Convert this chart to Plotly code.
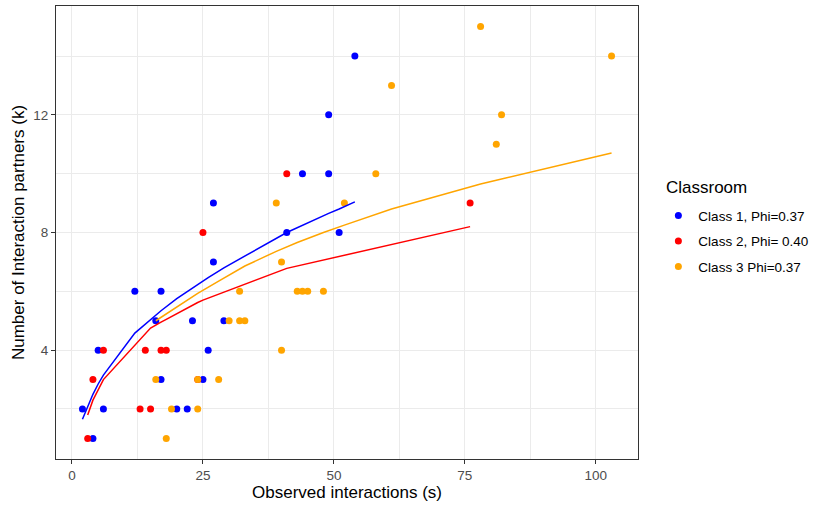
import plotly.graph_objects as go

# Observed data (s = observed interactions, k = interaction partners)
c1_s = [2, 4, 5, 6, 12, 16, 17, 17, 20, 22, 23, 25, 26, 27, 27, 29, 41, 44, 49, 49, 51, 54]
c1_k = [2, 1, 4, 2, 6, 5, 6, 3, 2, 2, 5, 3, 4, 7, 9, 5, 8, 10, 12, 10, 8, 14]

c2_s = [3, 4, 6, 13, 14, 15, 17, 18, 24, 25, 41, 76]
c2_k = [1, 3, 4, 2, 4, 2, 4, 4, 3, 8, 10, 9]

c3_s = [16, 18, 19, 24, 24, 28, 30, 32, 33, 32, 40, 40, 43, 44, 45, 48, 39, 52, 58, 61, 78, 82, 81, 103]
c3_k = [3, 1, 2, 2, 3, 3, 5, 5, 5, 6, 7, 4, 6, 6, 6, 6, 9, 9, 10, 13, 15, 12, 11, 14]

# Fitted curves
f1_s = [2, 4, 5, 6, 12, 16, 17, 20, 22, 23, 25, 26, 27, 29, 41, 44, 49, 51, 54]
f1_k = [1.65, 2.5, 2.85, 3.15, 4.58, 5.2, 5.34, 5.75, 6.0, 6.12, 6.35, 6.47, 6.58, 6.8, 8.0, 8.25, 8.65, 8.8, 9.04]

f2_s = [3, 4, 6, 13, 14, 15, 17, 18, 24, 25, 41, 76]
f2_k = [1.8, 2.3, 3.0, 4.35, 4.55, 4.75, 4.95, 5.05, 5.62, 5.7, 6.78, 8.2]

f3_s = [16, 18, 19, 24, 28, 30, 32, 33, 39, 40, 43, 44, 45, 48, 52, 58, 61, 78, 81, 82, 103]
f3_k = [5.0, 5.24, 5.35, 5.93, 6.35, 6.56, 6.76, 6.86, 7.36, 7.44, 7.66, 7.73, 7.8, 8.0, 8.25, 8.62, 8.8, 9.65, 9.78, 9.82, 10.7]

names = ["Class 1, Phi=0.37", "Class 2, Phi= 0.40", "Class 3 Phi=0.37"]
colors = ["#0000FF", "#FF0000", "#FFA500"]
legend_title = "Classroom"

fig = go.Figure()
for i, (s, k, n, c) in enumerate([(c1_s, c1_k, names[0], colors[0]),
                                  (c2_s, c2_k, names[1], colors[1]),
                                  (c3_s, c3_k, names[2], colors[2])]):
    fig.add_trace(go.Scatter(x=s, y=k, mode="markers", name=n, legendgroup=f"g{i}",
                             marker=dict(color=c, size=7, line=dict(width=0))))
for i, (s, k, c) in enumerate([(f1_s, f1_k, colors[0]), (f2_s, f2_k, colors[1]), (f3_s, f3_k, colors[2])]):
    fig.add_trace(go.Scatter(x=s, y=k, mode="lines", showlegend=False, legendgroup=f"g{i}",
                             line=dict(color=c, width=1.5), hoverinfo="skip"))

font = "Liberation Sans, Arial, sans-serif"
axis_common = dict(
    showline=True, linecolor="#333333", linewidth=1.1, mirror=True,
    showgrid=True, gridcolor="#EBEBEB", gridwidth=1.1,
    zeroline=False, ticks="outside", ticklen=4, tickcolor="#333333", tickwidth=1,
    tickfont=dict(family=font, size=13.5, color="#4D4D4D"),
)
fig.update_layout(
    width=817, height=506,
    margin=dict(l=56, r=179, t=6, b=47, autoexpand=False),
    paper_bgcolor="white", plot_bgcolor="white",
    font=dict(family=font, color="black"),
    xaxis=dict(**axis_common, range=[-3.05, 108.05], tick0=0, dtick=25,
               minor=dict(showgrid=True, gridcolor="#EBEBEB", gridwidth=0.6, dtick=12.5, tick0=0),
               title=dict(text="Observed interactions (s)", font=dict(size=17, family=font), standoff=3)),
    yaxis=dict(**axis_common, range=[0.3, 15.7], tick0=0, dtick=4,
               minor=dict(showgrid=True, gridcolor="#EBEBEB", gridwidth=0.6, dtick=2, tick0=0),
               title=dict(text="Number of Interaction partners (k)", font=dict(size=17, family=font), standoff=4)),
    legend=dict(x=1.035, y=0.5715, xanchor="left", yanchor="top",
                font=dict(size=13.5, family=font),
                tracegroupgap=5, bgcolor="rgba(0,0,0,0)"),
    showlegend=True,
    annotations=[dict(text=legend_title, xref="paper", yref="paper",
                      x=(664 - 56) / 582, y=(459 - 187) / 453,
                      xanchor="left", yanchor="middle", showarrow=False,
                      font=dict(size=17, family=font, color="black"))],
)
fig.write_html("out.html")
